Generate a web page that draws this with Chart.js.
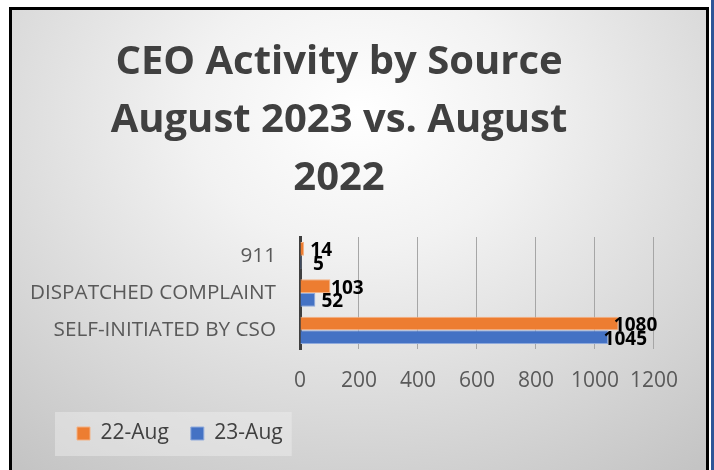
<!DOCTYPE html>
<html>
<head>
<meta charset="utf-8">
<script src="https://cdn.jsdelivr.net/npm/chart.js@4.4.0/dist/chart.umd.min.js"></script>
<style>
body{margin:0;width:714px;height:470px;overflow:hidden;background:#fff;position:relative}
#frame{position:absolute;left:9px;top:7px;width:694px;height:470px;border:3px solid #000;border-bottom:none;
  background:radial-gradient(ellipse 80% 95% at 50% 22%, #ffffff 0%, #f2f2f2 30%, #c4c4c4 100%)}
#edge{position:absolute;left:711px;top:0;width:3px;height:470px;background:#2f5597}
#chart{position:absolute;left:6px;top:10px}
</style>
</head>
<body>
<div id="frame"></div>
<div id="edge"></div>
<canvas id="chart" width="691" height="460"></canvas>
<script>
var categories = ["911", "DISPATCHED COMPLAINT", "SELF-INITIATED BY CSO"];
var aug22 = [14, 103, 1080];
var aug23 = [5, 52, 1045];
var seriesNames = ["22-Aug", "23-Aug"];
var xTicks = [0, 200, 400, 600, 800, 1000, 1200];
var titleLines = ["CEO Activity by Source", "August 2023 vs. August", "2022"];

// value labels next to bar ends
var valueLabels = {
  id: 'valueLabels',
  afterDatasetsDraw: function(chart){
    var ctx = chart.ctx;
    ctx.save();
    ctx.font = 'bold 19px "Open Sans"';
    ctx.fillStyle = '#000';
    ctx.textAlign = 'center';
    ctx.textBaseline = 'middle';
    chart.data.datasets.forEach(function(ds, i){
      chart.getDatasetMeta(i).data.forEach(function(bar, j){
        ctx.fillText(ds.data[j], bar.x + 17, bar.y + 2);
      });
    });
    ctx.restore();
  }
};

// move legend right and put a pale box behind it
var legendBox = {
  id: 'legendBox',
  afterLayout: function(chart){
    chart.legend.left += 49;
    chart.legend.right += 49;
  },
  beforeDraw: function(chart){
    var hb = chart.legend.legendHitBoxes;
    if (!hb || !hb.length) return;
    var first = hb[0], last = hb[hb.length - 1];
    var ctx = chart.ctx;
    ctx.save();
    ctx.fillStyle = 'rgba(240,240,240,0.45)';
    ctx.fillRect(first.left - 22, first.top - 11, last.left + last.width + 9 - (first.left - 22), 44);
    ctx.restore();
  }
};

var canvas = document.getElementById('chart').getContext('2d');
window.bars = new Chart(canvas, {
  type: 'bar',
  data: {
    labels: categories,
    datasets: [
      { label: seriesNames[0], data: aug22, backgroundColor: '#ed7d31', borderColor: '#f4b183', borderWidth: 1 },
      { label: seriesNames[1], data: aug23, backgroundColor: '#4472c4', borderColor: '#8faadc', borderWidth: 1 }
    ]
  },
  options: {
    responsive: false,
    animation: false,
    indexAxis: 'y',
    layout: { padding: { left: 0, right: 25, top: 0, bottom: 16 } },
    datasets: { bar: { categoryPercentage: 0.73, barPercentage: 1 } },
    scales: {
      x: {
        min: 0, max: 1200,
        afterBuildTicks: function(s){ s.ticks = xTicks.map(function(v){ return { value: v }; }); },
        afterFit: function(s){ s.height = 52; },
        grid: { color: '#a6a6a6', lineWidth: 1, drawTicks: false },
        border: { display: false },
        ticks: {
          padding: 19, color: '#595959', font: { family: 'Open Sans', size: 21 },
          callback: function(v){ return String(v); }
        }
      },
      y: {
        afterFit: function(s){ s.width = 294; },
        grid: { display: false, drawTicks: false },
        border: { display: true, color: '#3f3f3f', width: 3 },
        ticks: { padding: 24, color: '#595959', font: { family: 'Open Sans', size: 20.7 } }
      }
    },
    plugins: {
      title: {
        display: true,
        text: titleLines,
        color: '#404040',
        font: { family: 'Open Sans', size: 40, weight: 'bold', lineHeight: 1.45 },
        padding: { top: 24, bottom: 29 }
      },
      legend: {
        position: 'bottom',
        align: 'start',
        labels: {
          boxWidth: 13, boxHeight: 13, padding: 22,
          color: '#404040',
          font: { family: 'Open Sans', size: 21 }
        }
      },
      tooltip: { enabled: false }
    }
  },
  plugins: [valueLabels, legendBox]
});
</script>
</body>
</html>
